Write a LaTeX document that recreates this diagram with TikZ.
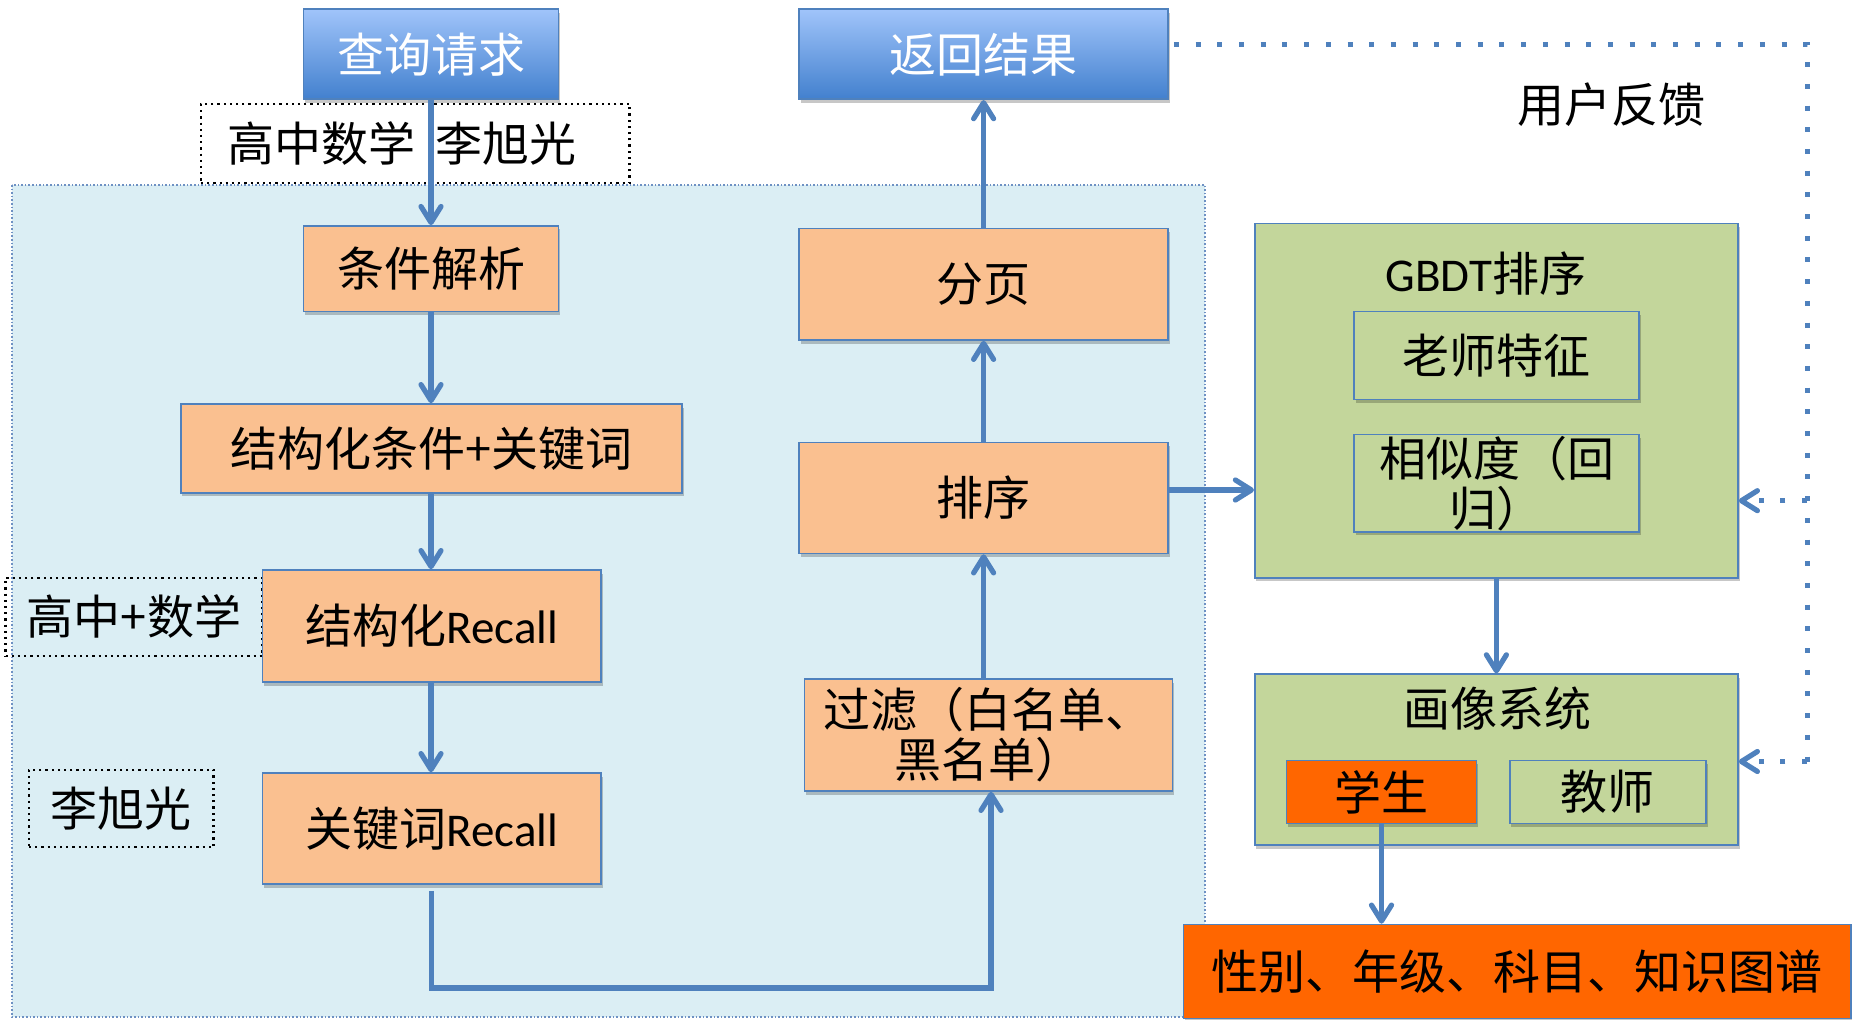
\documentclass[tikz,border=0pt]{standalone}
\usepackage{fontspec}
\setmainfont{Carlito}
\newfontfamily\cjk{Noto Sans CJK SC}
\newfontfamily\lat{Carlito}
\usetikzlibrary{arrows.meta,shadows,calc}
\definecolor{bord}{RGB}{79,129,189}
\definecolor{orfill}{RGB}{250,192,144}
\definecolor{grfill}{RGB}{195,214,155}
\definecolor{regfill}{RGB}{219,238,244}
\definecolor{regline}{RGB}{110,145,195}
\definecolor{hotor}{RGB}{255,102,0}
\definecolor{btop}{RGB}{160,196,250}
\definecolor{bbot}{RGB}{66,128,206}
\newcommand\bigf{\fontsize{23.5pt}{25pt}\selectfont}
\tikzset{
  base/.style={draw=bord, line width=0.8pt, inner sep=0pt, align=center, font=\cjk\bigf, text=black},
  shd/.style={drop shadow={shadow xshift=0.8pt, shadow yshift=-1.8pt, opacity=0.22, fill=black}},
  orbox/.style={base, shd, fill=orfill},
  bluebox/.style={base, shd, top color=btop, bottom color=bbot, text=white},
  grbox/.style={base, shd, fill=grfill},
  hotbox/.style={base, shd, fill=hotor},
  dotbox/.style={draw=black, dotted, line width=1.1pt, inner sep=0pt},
  plain/.style={inner sep=0pt, font=\cjk\bigf, align=center},
  arr/.style={draw=bord, line width=2.6pt, -{Straight Barb[length=8pt,width=10pt,round,line width=2.6pt]}},
  fbline/.style={draw=bord, line width=2.5pt, dash pattern=on 2.5pt off 8.35pt},
  fbarr/.style={fbline, -{Straight Barb[length=8pt,width=10pt,round,line width=2.6pt]}},
}
\begin{document}
\begin{tikzpicture}[x=0.5pt,y=-0.5pt]
\useasboundingbox (0,0) rectangle (1852,1020);
\fill[white] (0,0) rectangle (1852,1020);
% light blue region
\path[fill=regfill, draw=regline, densely dotted, line width=0.8pt] (12,185) rectangle (1205,1017);

% top boxes
\node[bluebox, minimum width=127.5pt, minimum height=45pt] (cx) at (431,54.3) {查询请求};
\node[bluebox, minimum width=184.5pt, minimum height=45pt] (fh) at (983.6,54.3) {返回结果};
\node[plain] (yh) at (1611,104.5) {用户反馈};

% dotted annotation boxes
\node[dotbox, minimum width=214.3pt, minimum height=39.5pt] (d1) at (415.2,143.5) {};
\node[plain] (d1t) at (402,143.5) {高中数学\hspace{10.5pt}李旭光};
\node[dotbox, minimum width=128.5pt, minimum height=39pt, font=\cjk\bigf] (d2) at (134,617) {高中+数学};
\node[dotbox, minimum width=92.2pt, minimum height=38.8pt, font=\cjk\bigf] (d3) at (121.2,808.5) {李旭光};

% left column
\node[orbox, minimum width=127.5pt, minimum height=42.9pt] (tj) at (431,268.8) {条件解析};
\node[orbox, minimum width=250.6pt, minimum height=44.4pt] (jg) at (431.4,448.4) {结构化条件+关键词};
\node[orbox, minimum width=169.25pt, minimum height=56pt] (jr) at (431.75,626) {结构化{\lat Recall}};
\node[orbox, minimum width=169.25pt, minimum height=55.5pt] (kr) at (431.75,828.5) {关键词{\lat Recall}};

% right column
\node[orbox, minimum width=184.5pt, minimum height=55.8pt] (fy) at (983.6,284.2) {分页};
\node[orbox, minimum width=184.5pt, minimum height=55.5pt] (px) at (983.6,498) {排序};
\node[orbox, minimum width=184pt, minimum height=56pt] (gl) at (988.4,735) {过滤（白名单、\\黑名单）};

% GBDT
\node[grbox, minimum width=241.6pt, minimum height=177.2pt] (gb) at (1496.4,400.6) {};
\node[plain] (gbt) at (1486,274) {{\lat GBDT}排序};
\node[grbox, minimum width=142.5pt, minimum height=44pt] (ls) at (1496.5,355.5) {老师特征};
\node[grbox, minimum width=142.5pt, minimum height=48.7pt] (xs) at (1496.5,483.2) {相似度（回\\归）};

% profile system
\node[grbox, minimum width=241.6pt, minimum height=85.4pt] (hx) at (1496.4,759.6) {};
\node[plain] (hxt) at (1497.6,708.6) {画像系统};
\node[hotbox, minimum width=95.1pt, minimum height=31.5pt] (st) at (1381.5,792) {学生};
\node[grbox, minimum width=98.1pt, minimum height=31.5pt] (js) at (1607.8,792) {教师};
\node[hotbox, minimum width=333.7pt, minimum height=47pt] (xb) at (1517.2,971.5) {性别、年级、科目、知识图谱};

% connectors
\draw[arr] (cx.south) -- (tj.north);
\draw[arr] (tj.south) -- (tj.south |- jg.north);
\draw[arr] (tj.south |- jg.south) -- (tj.south |- jr.north);
\draw[arr] (tj.south |- jr.south) -- (tj.south |- kr.north);
\coordinate (kb) at (991,988);
\draw[arr] ([yshift=-3pt]kr.south) |- (kb) -- (kb |- gl.south);
\draw[arr] (px.south |- gl.north) -- (px.south);
\draw[arr] (px.north) -- (fy.south);
\draw[arr] (fy.north) -- (fh.south);
\draw[arr] ([yshift=4pt]px.east) -- ([yshift=4pt]px.east -| gb.west);
\draw[arr] (gb.south) -- (hx.north);
\draw[arr] (st.south) -- (st.south |- xb.north);

% feedback dotted line
\coordinate (c1) at (1807,44.3);
\coordinate (c2) at (1807,500.7);
\coordinate (c3) at (1807,761.5);
\draw[fbline] ([xshift=2.5pt]fh.east |- c1) -- (c1) -- (c3);
\draw[fbarr] (c2) -- (c2 -| gb.east);
\draw[fbarr] (c3) -- (c3 -| hx.east);
\end{tikzpicture}
\end{document}
